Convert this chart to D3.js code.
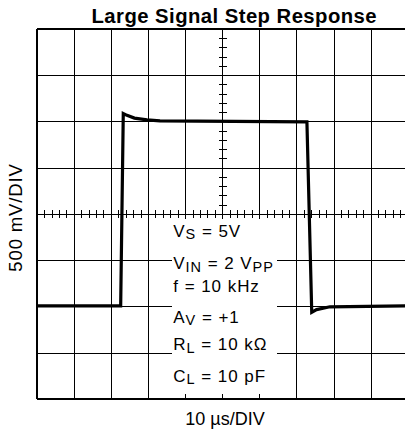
<!DOCTYPE html>
<html>
<head>
<meta charset="utf-8">
<script src="https://cdn.jsdelivr.net/npm/d3@7"></script>
<style>
  html, body { margin: 0; padding: 0; background: #fff; }
  svg { display: block; }
  text { font-family: "Liberation Sans", Arial, Helvetica, sans-serif; fill: #000; }
</style>
</head>
<body>
<svg id="chart" width="405" height="431"></svg>
<script>
// Oscilloscope-style step response: 10 µs/DIV horizontally, 500 mV/DIV vertically
const timeDomain = [0, 100];        // µs across 10 divisions
const voltDomain = [-2, 2];         // V across 8 divisions
const timeDivs = d3.range(0, 101, 10);
const voltDivs = d3.range(-2, 2.001, 0.5);
const timeMinor = d3.range(0, 100.01, 2);
const voltMinor = d3.range(-2, 2.001, 0.1);

// Output trace (µs, V)
const traceTime  = [0, 22.5, 23.2, 24.2, 26.2, 29.6, 33.1, 72.7, 74.0, 75.3, 78.9, 100];
const traceVolts = [-0.99, -0.99, 1.09, 1.07, 1.04, 1.02, 1.01, 1.0, -1.06, -1.03, -1.0, -0.99];

// Test conditions: base text, subscript, remainder, trailing subscript
const condBase = ["V", "V", "f = 10 kHz", "A", "R", "C"];
const condSub  = ["S", "IN", "", "V", "L", "L"];
const condRest = [" = 5V", " = 2 V", "", " = +1", " = 10 kΩ", " = 10 pF"];
const condSub2 = ["", "PP", "", "", "", ""];

const titleText = "Large Signal Step Response";
const xLabel = "10 µs/DIV";
const yLabel = "500 mV/DIV";

const svg = d3.select("#chart");
const plotLeft = 37.2, plotTop = 29.3, divW = 37.1, divH = 46.25;
const x = d3.scaleLinear().domain(timeDomain).range([plotLeft, plotLeft + 10 * divW]);
const y = d3.scaleLinear().domain(voltDomain).range([plotTop + 8 * divH, plotTop]);
const x0 = x(50), y0 = y(0);

const grid = svg.append("g").attr("stroke", "#000").attr("shape-rendering", "crispEdges");

// major divisions
grid.selectAll(".vl").data(timeDivs).join("line")
  .attr("x1", d => x(d)).attr("x2", d => x(d))
  .attr("y1", y(2)).attr("y2", y(-2))
  .attr("stroke-width", d => d === 0 ? 2 : 1);
grid.selectAll(".hl").data(voltDivs).join("line")
  .attr("x1", x(0)).attr("x2", x(100))
  .attr("y1", d => y(d)).attr("y2", d => y(d))
  .attr("stroke-width", d => Math.abs(d) === 2 ? 2 : 1);

// minor ticks on the centre graticule lines
grid.selectAll(".tm").data(timeMinor).join("line")
  .attr("x1", d => x(d)).attr("x2", d => x(d))
  .attr("y1", y0 - 4).attr("y2", y0 + 4).attr("stroke-width", 1);
grid.selectAll(".vm").data(voltMinor).join("line")
  .attr("x1", x0 - 4).attr("x2", x0 + 4)
  .attr("y1", d => y(d)).attr("y2", d => y(d)).attr("stroke-width", 1);

// white panel behind the test conditions
svg.append("rect")
  .attr("x", 172).attr("y", 219).attr("width", 105).attr("height", 175)
  .attr("fill", "#fff");

// trace
const line = d3.line().x((d, i) => x(traceTime[i])).y((d, i) => y(traceVolts[i]));
svg.append("path")
  .attr("d", line(traceTime))
  .attr("fill", "none").attr("stroke", "#000")
  .attr("stroke-width", 3.2).attr("stroke-linejoin", "miter");

// test conditions text
const baselines = [236.7, 269.3, 291.7, 322.7, 350, 381.7];
condBase.forEach((b, i) => {
  const t = svg.append("text").attr("x", 173.3).attr("y", baselines[i])
    .attr("font-size", 17).attr("letter-spacing", 0.95);
  t.append("tspan").text(b);
  if (condSub[i]) t.append("tspan").attr("font-size", 14.5).attr("dy", 2.6).text(condSub[i]);
  if (condRest[i]) t.append("tspan").attr("dy", condSub[i] ? -2.6 : 0).text(condRest[i]);
  if (condSub2[i]) t.append("tspan").attr("font-size", 14.5).attr("dy", 2.6).text(condSub2[i]);
});

// title and axis captions
svg.append("text").attr("x", 234.3).attr("y", 23.3).attr("text-anchor", "middle")
  .attr("font-size", 20.3).attr("font-weight", "bold").attr("letter-spacing", 0.45)
  .text(titleText);
svg.append("text").attr("x", 225).attr("y", 425).attr("text-anchor", "middle")
  .attr("font-size", 18).text(xLabel);
svg.append("text").attr("transform", "translate(21.7,217.5) rotate(-90)")
  .attr("text-anchor", "middle").attr("font-size", 18.6).attr("letter-spacing", 0.8)
  .text(yLabel);
</script>
</body>
</html>
